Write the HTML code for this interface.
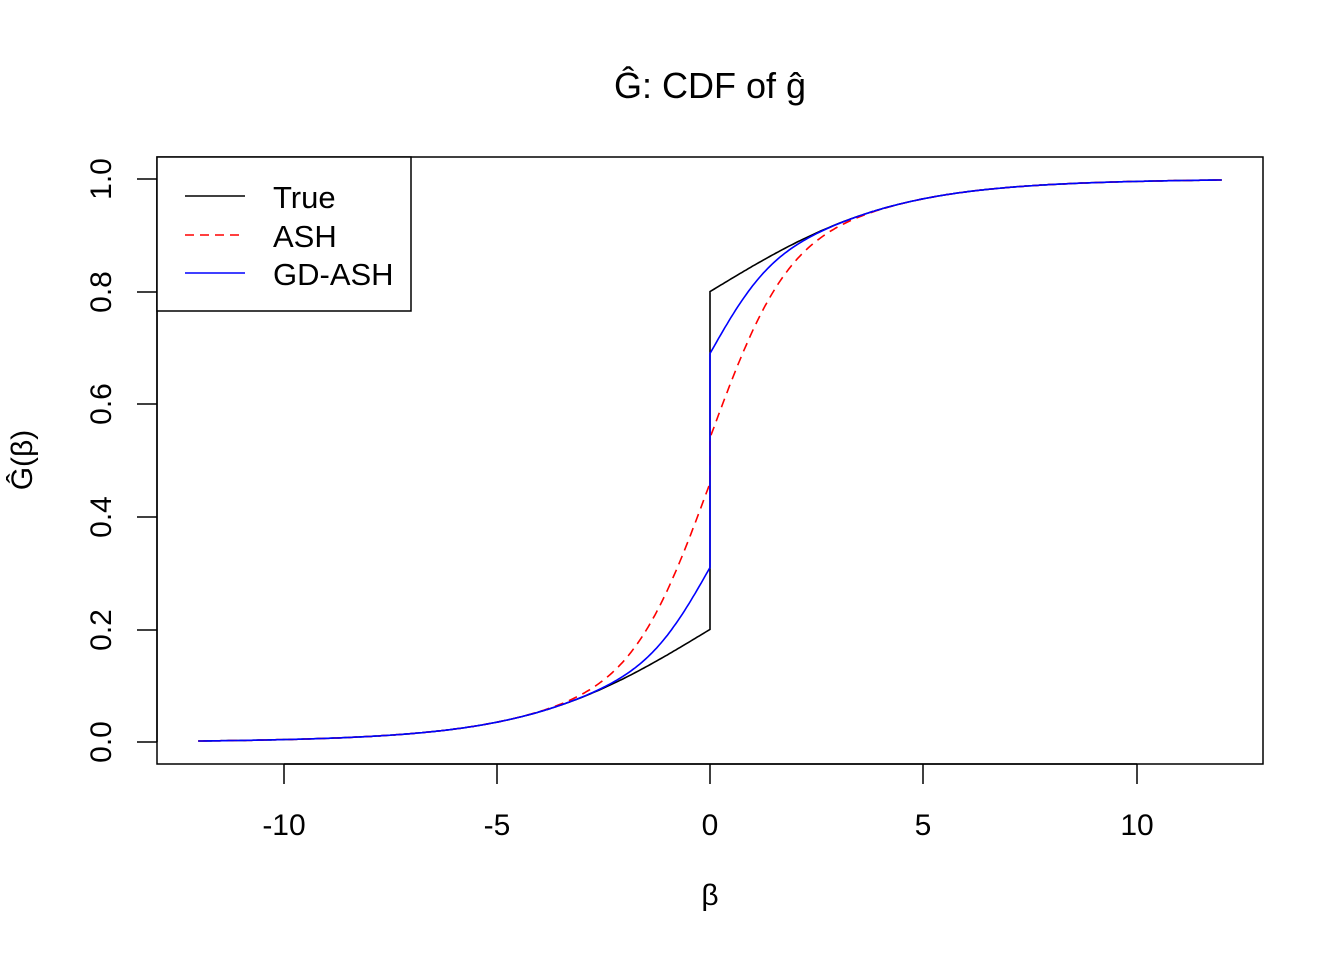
<!DOCTYPE html>
<html><head><meta charset="utf-8"><style>body{margin:0;background:#fff}svg{display:block}text{font-family:"Liberation Sans",sans-serif;fill:#000}</style></head>
<body>
<svg id="s" width="1344" height="960" xmlns="http://www.w3.org/2000/svg">
<rect width="1344" height="960" fill="#fff"/>
<text x="710" y="98" font-size="36" text-anchor="middle">Ĝ: CDF of ĝ</text>
<rect x="157" y="157" width="1106" height="607" fill="none" stroke="#000" stroke-width="1.5"/>
<g stroke="#000" stroke-width="1.5">
<line x1="284" y1="764" x2="1137" y2="764"/>
<line x1="284" y1="764" x2="284" y2="784"/><line x1="497" y1="764" x2="497" y2="784"/><line x1="710" y1="764" x2="710" y2="784"/><line x1="923" y1="764" x2="923" y2="784"/><line x1="1137" y1="764" x2="1137" y2="784"/>
<line x1="157" y1="179" x2="157" y2="742"/>
<line x1="157" y1="742" x2="137" y2="742"/><line x1="157" y1="630" x2="137" y2="630"/><line x1="157" y1="517" x2="137" y2="517"/><line x1="157" y1="404" x2="137" y2="404"/><line x1="157" y1="292" x2="137" y2="292"/><line x1="157" y1="179" x2="137" y2="179"/>
</g>
<g font-size="30" text-anchor="middle">
<text x="284" y="835">-10</text><text x="497" y="835">-5</text><text x="710" y="835">0</text><text x="923" y="835">5</text><text x="1137" y="835">10</text>
<text transform="translate(111,742) rotate(-90)">0.0</text>
<text transform="translate(111,630) rotate(-90)">0.2</text>
<text transform="translate(111,517) rotate(-90)">0.4</text>
<text transform="translate(111,404) rotate(-90)">0.6</text>
<text transform="translate(111,292) rotate(-90)">0.8</text>
<text transform="translate(111,179) rotate(-90)">1.0</text>
<text x="710" y="905" font-family="Liberation Serif">β</text>
<text transform="translate(32,460) rotate(-90)">Ĝ(β)</text>
</g>
<g id="curves" fill="none" stroke-width="1.6"></g>
<rect x="157" y="157" width="254" height="154" fill="#fff" stroke="#000" stroke-width="1.5"/>
<line x1="185" y1="196" x2="245" y2="196" stroke="#000" stroke-width="1.6"/>
<line x1="185" y1="235" x2="245" y2="235" stroke="red" stroke-width="1.6" stroke-dasharray="9,6"/>
<line x1="185" y1="273" x2="245" y2="273" stroke="blue" stroke-width="1.6"/>
<g font-size="31"><text x="273" y="208">True</text><text x="273" y="247">ASH</text><text x="273" y="285">GD-ASH</text></g>
</svg>
<script>
function erf(x){var s=x<0?-1:1;x=Math.abs(x);var t=1/(1+0.3275911*x);var y=1-(((((1.061405429*t-1.453152027)*t)+1.421413741)*t-0.284496736)*t+0.254829592)*t*Math.exp(-x*x);return s*y;}
function P(z){return 0.5*(1+erf(z/Math.SQRT2));}
function tail(b){return 0.4*(0.7*P(b/3)+0.3*P(b/5.5));}
function T(b,pos){return tail(b)+(pos?0.6:0);}
function G(b,pos){return tail(b)+0.22*P(b/1.0)+(pos?0.38:0);}
function A(b,pos){return tail(b)+0.52*P(b/1.3)+(pos?0.08:0);}
function X(b){return 710+b*42.65;}function Y(v){return 742-v*563;}
function path(f){var d="";for(var b=-12;b<=0.0001;b+=0.05){var bb=Math.min(b,0);d+=(d?"L":"M")+X(bb).toFixed(1)+","+Y(f(bb,false)).toFixed(1);}
for(var b=0;b<=12.0001;b+=0.05){d+="L"+X(b).toFixed(1)+","+Y(f(b,true)).toFixed(1);}return d;}
var g=document.getElementById("curves");
function add(f,c,da){var p=document.createElementNS("http://www.w3.org/2000/svg","path");p.setAttribute("d",path(f));p.setAttribute("stroke",c);if(da)p.setAttribute("stroke-dasharray",da);g.appendChild(p);}
add(T,"#000");add(A,"red","9,6");add(G,"blue");
</script>
</body></html>
